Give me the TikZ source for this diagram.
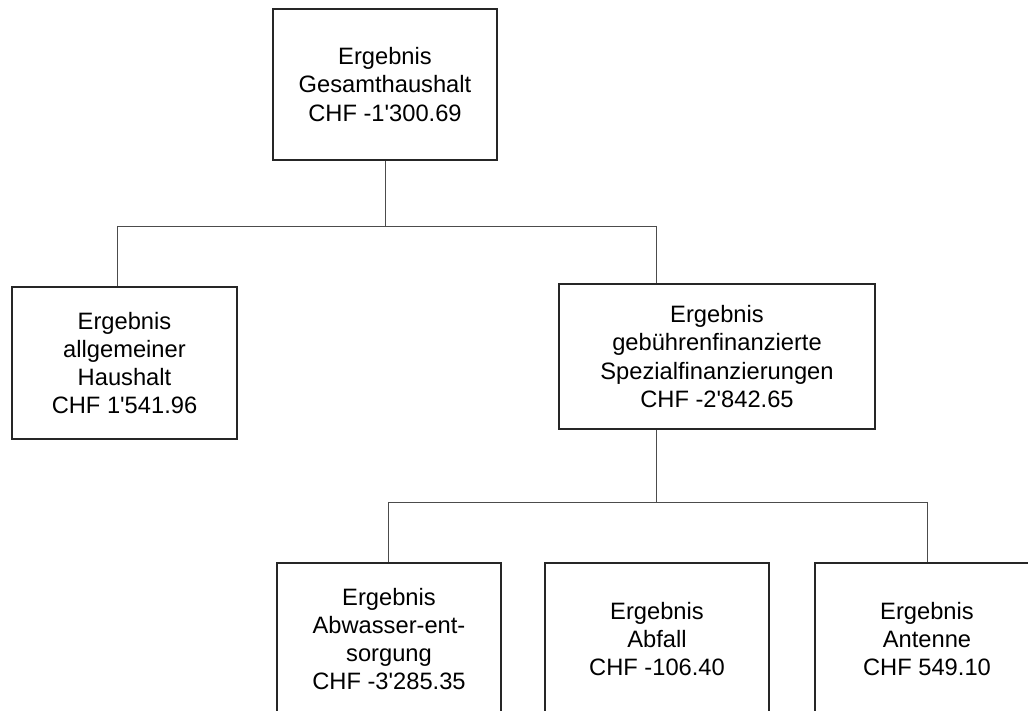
\documentclass[tikz,border=0pt]{standalone}
\usepackage{fontspec}
\setmainfont{Liberation Sans}
\newcommand{\ap}{\textquotesingle}
\begin{document}
\begin{tikzpicture}[x=1pt,y=1pt,
  box/.style={draw=black!85, line width=1.6pt, fill=white, inner sep=0pt, align=center,
    font=\fontsize{23.7}{28.3}\selectfont},
  link/.style={draw=black!70, line width=0.9pt}]
\useasboundingbox (0,0) rectangle (1028,710);
\clip (0,0) rectangle (1028,710);
\fill[white] (0,0) rectangle (1028,710);
% boxes
\node[box, minimum width=224pt, minimum height=151pt] (top) at (385,625.5)
  {Ergebnis\\Gesamthaushalt\\CHF -1\ap300.69};
\node[box, minimum width=225pt, minimum height=152pt] (left) at (124.5,347)
  {Ergebnis\\allgemeiner\\Haushalt\\CHF 1\ap541.96};
\node[box, minimum width=316pt, minimum height=145pt] (right) at (717,353.5)
  {Ergebnis\\gebührenfinanzierte\\Spezialfinanzierungen\\CHF -2\ap842.65};
\node[box, minimum width=224pt, minimum height=152pt] (b1) at (389,71)
  {Ergebnis\\Abwasser-ent-\\sorgung\\CHF -3\ap285.35};
\node[box, minimum width=224pt, minimum height=152pt] (b2) at (657,71)
  {Ergebnis\\Abfall\\CHF -106.40};
\node[box, minimum width=224pt, minimum height=152pt] (b3) at (927,71)
  {Ergebnis\\Antenne\\CHF 549.10};
% junction coordinates
\coordinate (hA) at (385,484);
\coordinate (lA) at (117,484);
\coordinate (rA) at (656,484);
\coordinate (hB) at (656,208);
\coordinate (lB) at (388,208);
\coordinate (rB) at (927,208);
% connectors
\draw[link] (top.south) -- (hA);
\draw[link] (lA) -- (rA);
\draw[link] (lA) -- (lA |- left.north);
\draw[link] (rA) -- (rA |- right.north);
\draw[link] (hB |- right.south) -- (hB);
\draw[link] (lB) -- (rB);
\draw[link] (lB) -- (lB |- b1.north);
\draw[link] (rB) -- (rB |- b3.north);
\end{tikzpicture}
\end{document}
